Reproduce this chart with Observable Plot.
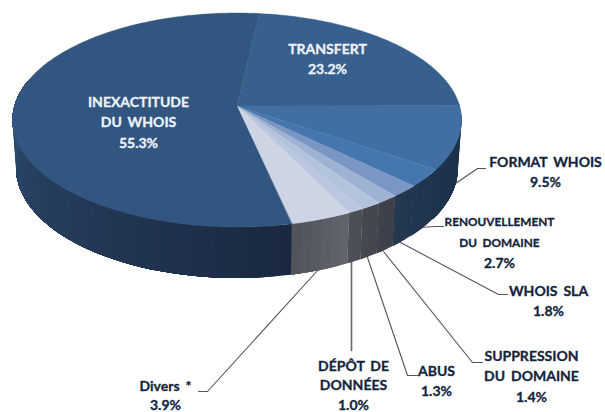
<!DOCTYPE html>
<html>
<head>
<meta charset="utf-8">
<script src="https://cdn.jsdelivr.net/npm/d3@7"></script>
<script src="https://cdn.jsdelivr.net/npm/@observablehq/plot@0.6"></script>
<style>
html,body{margin:0;padding:0;background:#fff}
svg{display:block;word-spacing:2.5px}
</style>
</head>
<body>
<div id="chart"></div>
<script>
// Data, clockwise from the top of the pie
const categories = ["TRANSFERT","FORMAT WHOIS","RENOUVELLEMENT DU DOMAINE","WHOIS SLA","SUPPRESSION DU DOMAINE","ABUS","DÉPÔT DE DONNÉES","Divers *","INEXACTITUDE DU WHOIS"];
const shares = [23.2,9.5,2.7,1.8,1.4,1.3,1.0,3.9,55.3];
const shareLabels = ["23.2%","9.5%","2.7%","1.8%","1.4%","1.3%","1.0%","3.9%","55.3%"];
const labelLines = [["TRANSFERT"],["FORMAT WHOIS"],["RENOUVELLEMENT","DU DOMAINE"],["WHOIS SLA"],["SUPPRESSION","DU DOMAINE"],["ABUS"],["DÉPÔT DE","DONNÉES"],["Divers *"],["INEXACTITUDE","DU WHOIS"]];

// Styles and layout
const topColors = ["#37608f","#416fa3","#4577ae","#7a96c2","#9fb2d3","#b4c3dc","#bac7de","#cdd4e3","#32567f"];
const wallStart = ["#1b3047","#1b3047","#1f344d","#21364f","#3a3f4a","#44464e","#4b4d54","#63666e","#1a2840"];
const wallEnd   = ["#1b3047","#1e334c","#21364f","#24384f","#3f434d","#474951","#4e5057","#4f5258","#2f4f75"];
const labelX = [327,545,499,548,531,436,353,165,138];
const labelY = [49,162,222,291,356,371,366,386,102];
const labelGap = [20.5,20.5,20.5,20.5,20.5,20.5,19.5,19,20.5];
const labelSize = [14,14,11.8,14,14,14,14,14,14];
const leaders = [
  {c:1,x:[455,477,485],y:[183,168,168]},
  {c:2,x:[418,435,443],y:[227,226,226]},
  {c:3,x:[400,498,507],y:[242,294,294]},
  {c:4,x:[383,472,482],y:[251,362,362]},
  {c:5,x:[367,407,417],y:[257,375,375]},
  {c:6,x:[351,351],y:[262,350],w:1.6,s:"#666"},
  {c:7,x:[318,207,198],y:[269,391,391]}
];
// Pie projection: a perspective view of a circle
const topRim = {x0:237,y0:106,a:222.6,b:105.2,k:-0.131};
const lowRim = {x0:237,y0:153.6,a:219,b:108.1,k:-0.131};
const startAngle = 90 - shares[0]*3.6;
const project = (r,deg) => {
  const t = deg*Math.PI/180, u = Math.sin(t), v = -Math.cos(t), d = 1 + r.k*v;
  return [r.x0 + r.a*u/d, r.y0 + r.b*v/d];
};
const total = d3.sum(shares);
let acc = 0;
const slices = categories.map((name,i)=>{
  const a0 = startAngle + acc/total*360; acc += shares[i];
  return {name,i,a0,a1:startAngle + acc/total*360};
});

const faceRows = slices.flatMap(s=>{
  const n = Math.max(2,Math.ceil(s.a1-s.a0));
  return d3.range(n+1).map(j=>{
    const [x,y] = project(topRim,s.a0+(s.a1-s.a0)*j/n);
    return {name:s.name,x1:topRim.x0,y1:topRim.y0,x2:x,y2:y,fill:topColors[s.i]};
  });
});
const wallLimit = [88,285];
const wallRows = slices.flatMap(s=>{
  const lo = Math.max(s.a0,wallLimit[0]), hi = Math.min(s.a1,wallLimit[1]);
  if (hi<=lo) return [];
  const n = Math.max(1,Math.ceil((hi-lo)/2.5)), color = d3.interpolateRgb(wallStart[s.i],wallEnd[s.i]);
  return d3.range(n).flatMap(j=>{
    // every strip runs on to the end of its slice and the next strip paints over it, so no seams show
    const qs = d3.range(j,n+1);
    return qs.map(q=>{
      const deg = lo+(hi-lo)*q/n, a = project(topRim,deg), b = project(lowRim,deg);
      return {x1:a[0],y1:a[1],x2:b[0],y2:b[1],z:s.name+"-"+j,fill:color((j+.5)/n)};
    });
  });
});
const textRows = categories.flatMap((c,i)=>{
  const lines = labelLines[i];
  return [...lines,shareLabels[i]].map((t,j)=>({
    t,x:labelX[i],y:labelY[i]+j*labelGap[i],
    size:j===lines.length?14:labelSize[i],
    fill:i===0||i===8?"#eef3fb":"#13243c"
  }));
});
const leaderRows = leaders.flatMap(l=>l.x.map((x,j)=>({x,y:l.y[j],z:l.c,w:l.w||1.1,s:l.s||"#555"})));

const chart = Plot.plot({
  width:605,height:412,margin:0,
  x:{domain:[0,605],range:[0,605],axis:null},
  y:{domain:[0,412],range:[0,412],axis:null},
  color:{type:"identity"},
  style:{fontFamily:"Lato, sans-serif"},
  marks:[
    Plot.line(leaderRows,{x:"x",y:"y",z:"z",stroke:"s",strokeWidth:"w",curve:"linear"}),
    Plot.area(wallRows,{x1:"x1",y1:"y1",x2:"x2",y2:"y2",z:"z",fill:"fill",curve:"linear"}),
    Plot.area(faceRows,{x1:"x1",y1:"y1",x2:"x2",y2:"y2",z:"name",fill:"fill",stroke:"fill",strokeWidth:.4,curve:"linear"}),
    Plot.text(textRows,{x:"x",y:"y",text:"t",fill:"fill",stroke:"fill",strokeWidth:.3,fontSize:"size",fontWeight:700,textAnchor:"middle",lineAnchor:"middle"})
  ]
});
document.getElementById("chart").append(chart);
</script>
</body>
</html>
